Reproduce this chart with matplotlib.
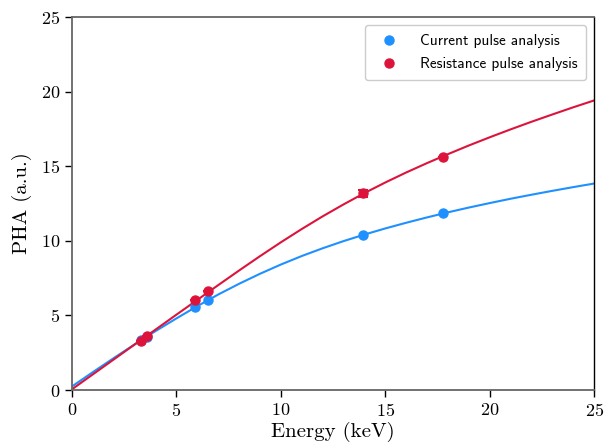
import matplotlib
matplotlib.use("Agg")
import matplotlib.pyplot as plt
from matplotlib.lines import Line2D
import numpy as np

plt.rcParams['font.family'] = ['cmr10', 'DejaVu Serif']
plt.rcParams['axes.formatter.use_mathtext'] = True
plt.rcParams['axes.unicode_minus'] = False

# measured points (energy in keV, PHA in a.u.)
energy = [3.31, 3.59, 5.90, 6.49, 13.95, 17.75]
pha_current = [3.33, 3.58, 5.57, 6.03, 10.41, 11.86]
pha_resistance = [3.31, 3.62, 6.03, 6.64, 13.18, 15.64]
pha_resistance_err = [0.0, 0.0, 0.0, 0.0, 0.22, 0.0]

# fit curves at 1 keV steps
fit_energy = list(range(0, 26))
fit_current = [0.24, 1.20, 2.14, 3.06, 3.95, 4.80, 5.62, 6.40, 7.12, 7.79,
               8.41, 8.98, 9.50, 9.98, 10.42, 10.83, 11.21, 11.57, 11.91, 12.23,
               12.53, 12.82, 13.09, 13.35, 13.60, 13.84]
fit_resistance = [0.05, 1.05, 2.05, 3.05, 4.05, 5.05, 6.04, 7.03, 8.01, 8.97,
                  9.90, 10.79, 11.64, 12.44, 13.20, 13.91, 14.58, 15.21, 15.81, 16.39,
                  16.94, 17.47, 17.98, 18.47, 18.95, 19.41]

labels = ['Current pulse analysis', 'Resistance pulse analysis']
blue = '#1E90FF'
red = '#DC143C'

fig = plt.figure(figsize=(6.05, 4.44), dpi=100)
ax = fig.add_axes([0.119, 0.1216, 0.863, 0.840])

ax.plot(fit_energy, fit_current, color=blue, lw=1.5, zorder=2)
ax.plot(fit_energy, fit_resistance, color=red, lw=1.5, zorder=2)
ax.plot(energy, pha_current, 'o', color=blue, ms=6.5, zorder=3)
ax.errorbar(energy, pha_resistance, yerr=pha_resistance_err, fmt='o', color=red, ms=6.5,
            capsize=3.5, elinewidth=1.2, capthick=1.5, zorder=4)

ax.set_xlim(0, 25)
ax.set_ylim(0, 25)
ax.set_xticks([0, 5, 10, 15, 20, 25])
ax.set_yticks([0, 5, 10, 15, 20, 25])
ax.tick_params(direction='out', length=5, width=1, labelsize=13)
ax.set_xlabel('Energy (keV)', fontsize=15, labelpad=2)
ax.set_ylabel('PHA (a.u.)', fontsize=15, labelpad=6)

for s in ['left', 'top', 'bottom']:
    ax.spines[s].set_color('0.4')
    ax.spines[s].set_linewidth(1.3)
ax.spines['right'].set_color('black')
ax.spines['right'].set_linewidth(1.0)

handles = [Line2D([], [], ls='none', marker='o', color=blue, ms=6.5),
           Line2D([], [], ls='none', marker='o', color=red, ms=6.5)]
ax.legend(handles, labels, loc='upper right', prop={'family': 'cmss10', 'size': 11},
          handletextpad=1.0, borderpad=0.6, labelspacing=0.6, fancybox=True,
          framealpha=1.0, edgecolor='0.8')

fig.savefig('out.png', dpi=100)
